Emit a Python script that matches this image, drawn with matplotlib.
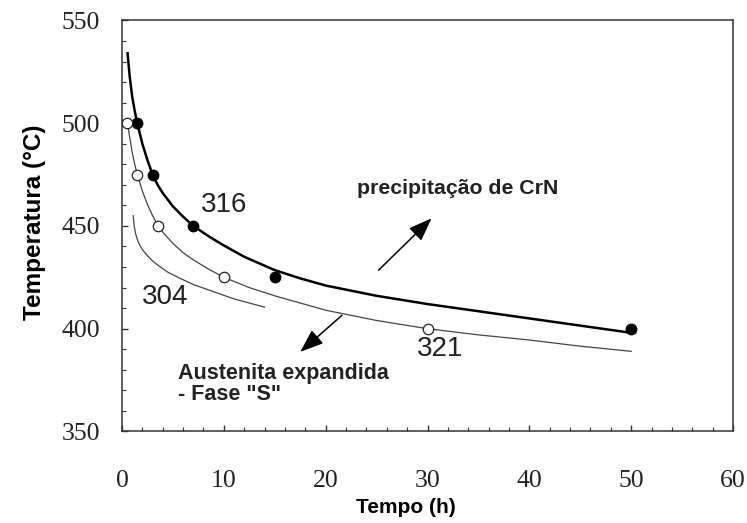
import numpy as np
import matplotlib
matplotlib.use('Agg')
import matplotlib.pyplot as plt

# pontos experimentais (tempo em h, temperatura em C)
t_316 = [1.5, 3, 7, 15, 50]
T_316 = [500, 475, 450, 425, 400]
t_321 = [0.5, 1.5, 3.5, 10, 30]
T_321 = [500, 475, 450, 425, 400]

# curvas de fronteira
curva316_t = [0.55, 0.75, 1.0, 1.25, 1.5, 2, 2.5, 3, 3.5, 4, 5, 6, 7, 8.5, 10, 12, 15,
              17.5, 20, 25, 30, 35, 40, 45, 50]
curva316_T = [534, 523, 513, 506, 500, 490, 482, 475, 470, 466, 459.5, 454.5, 450, 445,
              440.5, 435, 428.5, 424.5, 421, 416, 412, 408.5, 405, 401.5, 398]
curva321_t = [0.6, 0.8, 1.0, 1.25, 1.5, 2, 2.5, 3, 3.5, 4, 5, 6, 7, 8.5, 10, 12.5, 15,
              17.5, 20, 25, 30, 35, 40, 45, 50]
curva321_T = [498, 492, 486, 480, 475, 467, 460.5, 455, 450.5, 447, 441.5, 437, 433.5,
              429, 425, 420, 416, 412.5, 409, 404, 400, 397, 394.5, 391.5, 389]
curva304_t = [1.1, 1.2, 1.35, 1.6, 2, 2.5, 3, 3.5, 4.5, 5.5, 7, 9, 11, 12.5, 14]
curva304_T = [455, 450, 446, 442, 438.5, 435.5, 433, 431, 427.5, 425, 421.5, 418, 414.5,
              412.5, 410.5]

xticks = [0, 10, 20, 30, 40, 50, 60]
yticks = [350, 400, 450, 500, 550]

fig = plt.figure(figsize=(7.47, 5.23), dpi=100)
ax = fig.add_axes([0.1633, 0.175, 0.818, 0.786])

ax.plot(curva316_t, curva316_T, color='black', lw=1.8, zorder=2)
ax.plot(curva321_t, curva321_T, color='#444444', lw=0.9, zorder=2)
ax.plot(curva304_t, curva304_T, color='#444444', lw=0.9, zorder=2)

ax.plot(t_316, T_316, 'o', ms=7.5, mfc='black', mec='black', zorder=3)
ax.plot(t_321, T_321, 'o', ms=7.5, mfc='white', mec='#222222', mew=0.9, zorder=3)

ax.set_xlim(0, 60)
ax.set_ylim(350, 550)
ax.set_xticks(xticks)
ax.set_yticks(yticks)
ax.set_xticks(np.arange(0, 61, 2), minor=True)
ax.set_yticks(np.arange(350, 551, 10), minor=True)
ax.tick_params(which='both', direction='in', top=False, right=False, color='#333333')
ax.tick_params(which='major', length=4.5, width=1.0)
ax.tick_params(which='minor', length=3, width=0.8)
ax.tick_params(axis='x', which='major', pad=28)
ax.tick_params(axis='y', which='major', pad=16)
for lab in ax.get_xticklabels() + ax.get_yticklabels():
    lab.set_fontfamily('Liberation Serif')
    lab.set_fontsize(18.5)
    lab.set_color('#222222')
for sp in ax.spines.values():
    sp.set_color('#333333')
    sp.set_linewidth(1.1)

ax.set_xlabel('Tempo (h)', fontfamily='Liberation Sans', fontweight='bold', fontsize=15)
ax.set_ylabel('Temperatura (°C)', fontfamily='Liberation Sans', fontweight='bold', fontsize=17.5)
ax.xaxis.set_label_coords(0.465, -0.163)
ax.yaxis.set_label_coords(-0.125, 0.51)

# rotulos das ligas
ax.text(10.0, 460, '316', fontfamily='Liberation Sans', fontsize=20, ha='center', va='center', color='#222222')
ax.text(4.2, 415.5, '304', fontfamily='Liberation Sans', fontsize=20, ha='center', va='center', color='#222222')
ax.text(31.2, 390, '321', fontfamily='Liberation Sans', fontsize=20, ha='center', va='center', color='#222222')

ax.text(33.0, 468.4, 'precipitação de CrN', fontfamily='Liberation Sans', fontweight='bold',
        fontsize=15.3, ha='center', va='center', color='#222222')
ax.text(5.5, 373, 'Austenita expandida\n- Fase "S"', fontfamily='Liberation Sans', fontweight='bold',
        fontsize=15.5, ha='left', va='center', linespacing=1.0, color='#222222')

seta = dict(arrowstyle='-|>,head_length=0.8,head_width=0.3', mutation_scale=18,
            color='black', lw=1.1, shrinkA=0, shrinkB=0)
ax.annotate('', xy=(30.4, 453.7), xytext=(25.2, 428.5), arrowprops=seta)
ax.annotate('', xy=(17.5, 388.7), xytext=(21.6, 406.5), arrowprops=seta)

fig.savefig('out.png', dpi=100)
